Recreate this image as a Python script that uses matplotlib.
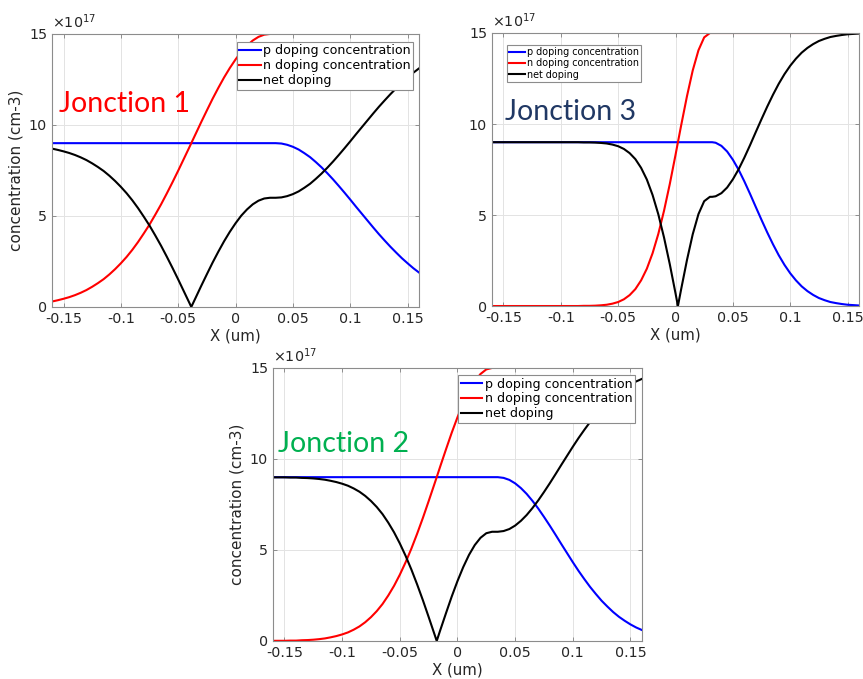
import matplotlib
matplotlib.use('Agg')
import matplotlib.pyplot as plt

# doping profiles, values in units of 1e17 cm-3

# Jonction 1
x_j1 = [-0.16, -0.155, -0.15, -0.145, -0.14, -0.135, -0.13, -0.125, -0.12, -0.115,
        -0.11, -0.105, -0.1, -0.095, -0.09, -0.085, -0.08, -0.075, -0.07, -0.065,
        -0.06, -0.055, -0.05, -0.045, -0.04, -0.0386, -0.035, -0.03, -0.025, -0.02,
        -0.015, -0.01, -0.005, 0, 0.005, 0.01, 0.015, 0.02, 0.025, 0.03,
        0.035, 0.04, 0.045, 0.05, 0.055, 0.06, 0.065, 0.07, 0.075, 0.08,
        0.085, 0.09, 0.095, 0.1, 0.105, 0.11, 0.115, 0.12, 0.125, 0.13,
        0.135, 0.14, 0.145, 0.15, 0.155, 0.16]
p_j1 = [9] * 41 + [8.98, 8.91, 8.8, 8.65, 8.45, 8.23, 7.96, 7.67, 7.35, 7.01, 6.65, 6.28, 5.9,
                   5.51, 5.13, 4.75, 4.37, 4.0, 3.65, 3.31, 2.99, 2.68, 2.4, 2.13, 1.89]
n_j1 = [0.30, 0.37, 0.45, 0.54, 0.65, 0.78, 0.93, 1.11, 1.31, 1.53, 1.79, 2.08, 2.40,
        2.75, 3.14, 3.57, 4.04, 4.53, 5.07, 5.63, 6.23, 6.85, 7.49, 8.15, 8.81, 9.0,
        9.48, 10.15, 10.8, 11.44, 12.04, 12.61, 13.13, 13.60, 14.02, 14.36, 14.64,
        14.84, 14.96, 15] + [15] * 26
net_j1 = [8.70, 8.63, 8.55, 8.46, 8.35, 8.22, 8.07, 7.89, 7.69, 7.47, 7.21, 6.92, 6.60,
          6.25, 5.86, 5.43, 4.96, 4.47, 3.93, 3.37, 2.77, 2.15, 1.51, 0.85, 0.19, 0,
          0.48, 1.15, 1.8, 2.44, 3.04, 3.61, 4.13, 4.60, 5.02, 5.36, 5.64, 5.84, 5.96, 6,
          6, 6.02, 6.09, 6.2, 6.35, 6.55, 6.77, 7.04, 7.33, 7.65, 7.99, 8.35, 8.72, 9.1,
          9.49, 9.87, 10.25, 10.63, 11.0, 11.35, 11.69, 12.01, 12.32, 12.6, 12.87, 13.11]

# Jonction 2
x_j2 = [-0.16, -0.155, -0.15, -0.145, -0.14, -0.135, -0.13, -0.125, -0.12, -0.115,
        -0.11, -0.105, -0.1, -0.095, -0.09, -0.085, -0.08, -0.075, -0.07, -0.065,
        -0.06, -0.055, -0.05, -0.045, -0.04, -0.035, -0.03, -0.025, -0.02, -0.018,
        -0.015, -0.01, -0.005, 0, 0.005, 0.01, 0.015, 0.02, 0.025, 0.03,
        0.035, 0.04, 0.045, 0.05, 0.055, 0.06, 0.065, 0.07, 0.075, 0.08,
        0.085, 0.09, 0.095, 0.1, 0.105, 0.11, 0.115, 0.12, 0.125, 0.13,
        0.135, 0.14, 0.145, 0.15, 0.155, 0.16]
p_j2 = [9] * 41 + [8.96, 8.85, 8.66, 8.4, 8.08, 7.7, 7.28, 6.82, 6.34, 5.84, 5.33, 4.83, 4.33,
                   3.85, 3.4, 2.97, 2.58, 2.21, 1.89, 1.59, 1.33, 1.11, 0.91, 0.74, 0.6]
n_j2 = [0.01, 0.01, 0.01, 0.02, 0.02, 0.04, 0.05, 0.07, 0.10, 0.14, 0.20, 0.27, 0.36,
        0.47, 0.62, 0.80, 1.03, 1.31, 1.64, 2.03, 2.50, 3.03, 3.64, 4.32, 5.07, 5.89,
        6.76, 7.68, 8.62, 9.0, 9.58, 10.52, 11.44, 12.29, 13.06, 13.73, 14.27, 14.67,
        14.92] + [15] * 27
net_j2 = [8.99, 8.99, 8.99, 8.98, 8.98, 8.96, 8.95, 8.93, 8.9, 8.86, 8.8, 8.73, 8.64,
          8.53, 8.38, 8.2, 7.97, 7.69, 7.36, 6.97, 6.5, 5.97, 5.36, 4.68, 3.93, 3.11,
          2.24, 1.32, 0.38, 0, 0.58, 1.52, 2.44, 3.29, 4.06, 4.73, 5.27, 5.67, 5.92, 6,
          6, 6.04, 6.15, 6.34, 6.6, 6.92, 7.3, 7.72, 8.18, 8.66, 9.16, 9.67, 10.17, 10.67,
          11.15, 11.6, 12.03, 12.42, 12.79, 13.11, 13.41, 13.67, 13.89, 14.09, 14.26, 14.4]

# Jonction 3
x_j3 = [-0.16, -0.155, -0.15, -0.145, -0.14, -0.135, -0.13, -0.125, -0.12, -0.115,
        -0.11, -0.105, -0.1, -0.095, -0.09, -0.085, -0.08, -0.075, -0.07, -0.065,
        -0.06, -0.055, -0.05, -0.045, -0.04, -0.035, -0.03, -0.025, -0.02, -0.015,
        -0.01, -0.005, 0, 0.0021, 0.005, 0.01, 0.015, 0.02, 0.025, 0.03, 0.032,
        0.035, 0.04, 0.045, 0.05, 0.055, 0.06, 0.065, 0.07, 0.075, 0.08,
        0.085, 0.09, 0.095, 0.1, 0.105, 0.11, 0.115, 0.12, 0.125, 0.13,
        0.135, 0.14, 0.145, 0.15, 0.155, 0.16]
p_j3 = [9] * 41 + [8.97, 8.8, 8.49, 8.04, 7.49, 6.85, 6.16, 5.44, 4.73, 4.04, 3.39, 2.79, 2.26,
                   1.8, 1.41, 1.08, 0.82, 0.61, 0.44, 0.32, 0.22, 0.16, 0.11, 0.07, 0.05, 0.03]
n_j3 = [0] * 16 + [0.01, 0.01, 0.02, 0.04, 0.07, 0.13, 0.22, 0.37, 0.6, 0.93, 1.41, 2.05,
                   2.9, 3.96, 5.24, 6.7, 8.3, 9.0, 9.95, 11.53, 12.94, 14.05, 14.76] + [15] * 28
net_j3 = [9] * 16 + [8.99, 8.99, 8.98, 8.96, 8.93, 8.87, 8.78, 8.63, 8.4, 8.07, 7.59, 6.95,
                     6.1, 5.04, 3.76, 2.3, 0.7, 0, 0.95, 2.53, 3.94, 5.05, 5.76, 6, 6,
                     6.03, 6.2, 6.51, 6.96, 7.51, 8.15, 8.84, 9.56, 10.27, 10.96, 11.61,
                     12.21, 12.74, 13.2, 13.59, 13.92, 14.18, 14.39, 14.56, 14.68, 14.78,
                     14.84, 14.89, 14.93, 14.95, 14.97]

xticks = [-0.15, -0.1, -0.05, 0, 0.05, 0.1, 0.15]
xticklabels = ['-0.15', '-0.1', '-0.05', '0', '0.05', '0.1', '0.15']
yticks = [0, 5, 10, 15]
labels = ['p doping concentration', 'n doping concentration', 'net doping']

plt.rcParams['font.family'] = 'DejaVu Sans'
fig = plt.figure(figsize=(8.63, 6.79), dpi=100)

panels = [
    ((x_j1, p_j1, n_j1, net_j1), [0.0603, 0.5479, 0.4253, 0.4021], 'upper right', (0.984, 0.971), 9.1, True),
    ((x_j3, p_j3, n_j3, net_j3), [0.5701, 0.5493, 0.4253, 0.4021], 'upper left', (0.041, 0.956), 6.9, False),
    ((x_j2, p_j2, n_j2, net_j2), [0.3163, 0.0560, 0.4276, 0.4021], 'upper right', (0.981, 0.974), 9.1, True),
]
for (x, pv, nv, net), rect, loc, anchor, lfs, ylab in panels:
    ax = fig.add_axes(rect)
    ax.plot(x, pv, color='b', lw=1.5, label=labels[0])
    ax.plot(x, nv, color='r', lw=1.5, label=labels[1])
    ax.plot(x, net, color='k', lw=1.5, label=labels[2])
    ax.set_xlim(-0.16, 0.16)
    ax.set_ylim(0, 15)
    ax.set_xticks(xticks)
    ax.set_xticklabels(xticklabels)
    ax.set_yticks(yticks)
    ax.tick_params(direction='in', length=3, width=0.6, labelcolor='#262626', labelsize=10.3,
                   top=True, right=True, color='#808080')
    for s in ax.spines.values():
        s.set_color('#8c8c8c')
        s.set_linewidth(0.8)
    ax.grid(True, color='#e3e3e3', lw=0.7)
    ax.set_axisbelow(True)
    ax.set_xlabel('X (um)', fontsize=10.8, color='#262626', labelpad=2)
    if ylab:
        ax.set_ylabel('concentration (cm-3)', fontsize=11, color='#262626', labelpad=4)
    ax.text(0.0, 1.01, r'$\times10^{17}$', transform=ax.transAxes, fontsize=10.3,
            color='#262626', ha='left', va='bottom')
    leg = ax.legend(loc=loc, bbox_to_anchor=anchor, borderaxespad=0, fontsize=lfs,
                    handlelength=1.7, handletextpad=0.2, labelspacing=0.15,
                    borderpad=0.2, fancybox=False, framealpha=1)
    leg.get_frame().set_edgecolor('#8c8c8c')
    leg.get_frame().set_linewidth(0.8)

fig.text(59/863, 1-104/679, 'Jonction 1', color='#ff0000', fontsize=20.5, family='Lato', va='center')
fig.text(505/863, 1-112/679, 'Jonction 3', color='#203864', fontsize=20.5, family='Lato', va='center')
fig.text(278/863, 1-444/679, 'Jonction 2', color='#00b050', fontsize=20.5, family='Lato', va='center')

fig.savefig('out.png')
